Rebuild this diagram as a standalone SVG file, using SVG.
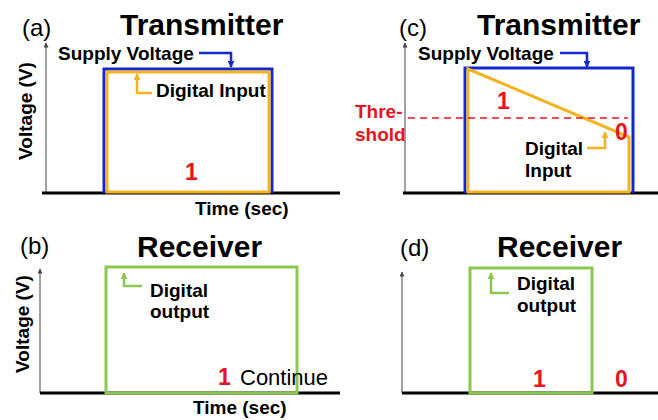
<svg xmlns="http://www.w3.org/2000/svg" width="658" height="420" viewBox="0 0 658 420">
  <style>
    .title { font-family: "Liberation Sans", Arial, sans-serif; font-weight: bold; font-size: 30px; fill: #000; }
    .tag { font-family: "Liberation Sans", Arial, sans-serif; font-size: 24px; fill: #000; }
    .lbl { font-family: "Liberation Sans", Arial, sans-serif; font-weight: bold; font-size: 19px; fill: #000; }
    .bit { font-family: "Liberation Sans", Arial, sans-serif; font-weight: bold; font-size: 23px; fill: #e8141c; }
    .thr { font-family: "Liberation Sans", Arial, sans-serif; font-weight: bold; font-size: 19px; fill: #e8141c; }
    .cont { font-family: "Liberation Sans", Arial, sans-serif; font-size: 22px; fill: #000; }
    .axis { stroke: #444; stroke-width: 1; fill: none; marker-end: url(#ah-axis); }
    .base { stroke: #000; stroke-width: 3; fill: none; }
    .supply { stroke: #1428d2; stroke-width: 3; fill: none; }
    .input { stroke: #f5b320; stroke-width: 3; fill: none; }
    .output { stroke: #8cc850; stroke-width: 3; fill: none; }
    .thresh { stroke: #e8141c; stroke-width: 1.5; stroke-dasharray: 7 5; fill: none; }
    .lead-blue { stroke: #1428d2; stroke-width: 2.5; fill: none; marker-end: url(#ah-blue); }
    .lead-orange { stroke: #f5b320; stroke-width: 2.5; fill: none; marker-end: url(#ah-orange); }
    .lead-green { stroke: #8cc850; stroke-width: 2.5; fill: none; marker-end: url(#ah-green); }
  </style>
  <defs>
    <marker id="ah-axis" viewBox="0 0 10 10" refX="9" refY="5" markerWidth="6" markerHeight="5" markerUnits="userSpaceOnUse" orient="auto">
      <path d="M0,0 L10,5 L0,10 z" fill="#444"/>
    </marker>
    <marker id="ah-blue" viewBox="0 0 10 10" refX="9" refY="5" markerWidth="7" markerHeight="7" markerUnits="userSpaceOnUse" orient="auto">
      <path d="M0,0 L10,5 L0,10 z" fill="#1428d2"/>
    </marker>
    <marker id="ah-orange" viewBox="0 0 10 10" refX="9" refY="5" markerWidth="7" markerHeight="7" markerUnits="userSpaceOnUse" orient="auto">
      <path d="M0,0 L10,5 L0,10 z" fill="#f5b320"/>
    </marker>
    <marker id="ah-green" viewBox="0 0 10 10" refX="9" refY="5" markerWidth="7" markerHeight="7" markerUnits="userSpaceOnUse" orient="auto">
      <path d="M0,0 L10,5 L0,10 z" fill="#8cc850"/>
    </marker>
  </defs>

  <rect width="658" height="420" fill="#fff"/>

  <!-- (a) transmitter, full-width pulse -->
  <g id="panel-a">
    <text class="tag" x="22" y="36">(a)</text>
    <text class="title" x="120" y="35">Transmitter</text>
    <line class="axis" x1="46" y1="193" x2="46" y2="43"/>
    <line class="base" x1="42" y1="193" x2="340" y2="193"/>
    <path class="supply" d="M104,193 V69 H272 V193"/>
    <path class="input" d="M107,192 V72 H269 V192 Z"/>
    <text class="lbl" transform="translate(32,111) rotate(-90)" text-anchor="middle">Voltage (V)</text>
    <text class="lbl" x="195" y="215">Time (sec)</text>
    <text class="bit" x="185" y="180">1</text>
  </g>

  <!-- (b) receiver, continuous 1 -->
  <g id="panel-b">
    <text class="tag" x="20" y="254">(b)</text>
    <text class="title" x="137" y="257">Receiver</text>
    <line class="axis" x1="40" y1="393" x2="40" y2="269"/>
    <line class="base" x1="40" y1="393" x2="340" y2="393"/>
    <rect class="output" x="106" y="267" width="191" height="126"/>
    <text class="lbl" transform="translate(29,324) rotate(-90)" text-anchor="middle">Voltage (V)</text>
    <text class="lbl" x="193" y="414">Time (sec)</text>
    <text class="bit" x="218" y="385">1</text>
    <text class="cont" x="240" y="385">Continue</text>
  </g>

  <!-- (c) transmitter, decaying input crossing the threshold -->
  <g id="panel-c">
    <text class="tag" x="399" y="36">(c)</text>
    <text class="title" x="477" y="35">Transmitter</text>
    <line class="axis" x1="405" y1="193" x2="405" y2="43"/>
    <line class="base" x1="403" y1="193" x2="658" y2="193"/>
    <path class="supply" d="M465,193 V68 H633 V193"/>
    <path class="input" d="M468,69 L629,137 V192 H468 Z"/>
    <line class="thresh" x1="408" y1="118" x2="628" y2="118"/>
    <text class="thr" x="355" y="118">Thre-</text>
    <text class="thr" x="355" y="141">shold</text>
    <text class="bit" x="497" y="109">1</text>
    <text class="bit" x="615" y="140">0</text>
  </g>

  <!-- (d) receiver, 1 then 0 -->
  <g id="panel-d">
    <text class="tag" x="400" y="256">(d)</text>
    <text class="title" x="497" y="257">Receiver</text>
    <line class="axis" x1="402" y1="393" x2="402" y2="272"/>
    <line class="base" x1="402" y1="393" x2="658" y2="393"/>
    <rect class="output" x="470" y="268" width="122" height="125"/>
    <text class="bit" x="533" y="387">1</text>
    <text class="bit" x="615" y="387">0</text>
  </g>

  <!-- callout labels -->
  <g id="label-supply-a">
    <text class="lbl" x="58" y="60">Supply Voltage</text>
  </g>
  <g id="label-input-a">
    <text class="lbl" x="156" y="97">Digital Input</text>
  </g>
  <g id="label-output-b">
    <text class="lbl" x="150" y="297">Digital</text>
    <text class="lbl" x="150" y="318">output</text>
  </g>
  <g id="label-supply-c">
    <text class="lbl" x="418" y="60">Supply Voltage</text>
  </g>
  <g id="label-input-c">
    <text class="lbl" x="525" y="155">Digital</text>
    <text class="lbl" x="525" y="177">Input</text>
  </g>
  <g id="label-output-d">
    <text class="lbl" x="517" y="290">Digital</text>
    <text class="lbl" x="517" y="312">output</text>
  </g>

  <!-- leader arrows from labels to traces -->
  <g id="connectors">
    <path class="lead-blue" d="M199,53 H231 V67"/>
    <path class="lead-orange" d="M152,93 H137 V74"/>
    <path class="lead-green" d="M142,286 H124 V273"/>
    <path class="lead-blue" d="M560,53 H587 V67"/>
    <path class="lead-orange" d="M587,148 H605 V132"/>
    <path class="lead-green" d="M509,293 H491 V273"/>
  </g>
</svg>
